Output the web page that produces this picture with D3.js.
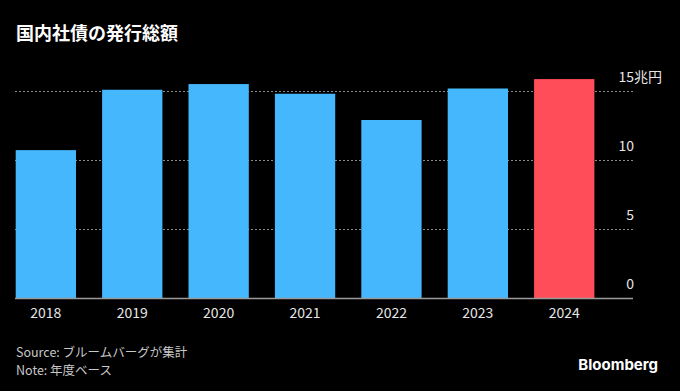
<!DOCTYPE html>
<html><head><meta charset="utf-8">
<script src="https://cdn.jsdelivr.net/npm/d3@7"></script>
<style>
html,body{margin:0;padding:0;background:#000;}
svg{display:block;font-family:"Noto Sans CJK JP","Noto Sans",sans-serif;}
</style></head>
<body><svg id="c" width="680" height="391"></svg>
<script>
const years = ["2018","2019","2020","2021","2022","2023","2024"];
const values = [10.7, 15.07, 15.48, 14.78, 12.88, 15.16, 15.84];
const highlight = ["2024"];
const yTicks = [0, 5, 10, 15];
const yTickLabels = ["0", "5", "10", "15"];
const title = "国内社債の発行総額";
const notes = ["Source: ブルームバーグが集計", "Note: 年度ベース"];

const svg = d3.select("#c");
svg.append("rect").attr("width",680).attr("height",391).attr("fill","#000");

const x = d3.scaleBand().domain(years).range([15.7, 594.4]).paddingInner(0.302).paddingOuter(0);
const y = d3.scaleLinear().domain([0, 15]).range([298, 90.7]);

// gridlines
svg.append("g").selectAll("line").data(yTicks.filter(d=>d>0)).join("line")
  .attr("x1",15).attr("x2",633)
  .attr("y1",d=>Math.round(y(d))+0.5).attr("y2",d=>Math.round(y(d))+0.5)
  .attr("stroke","#8a8a8a").attr("stroke-width",1).attr("stroke-dasharray","2,2");

// bars
svg.append("g").selectAll("rect").data(years).join("rect")
  .attr("x",d=>x(d)).attr("width",x.bandwidth())
  .attr("y",(d,i)=>y(values[i])).attr("height",(d,i)=>y(0)-y(values[i]))
  .attr("fill",d=>highlight.includes(d)?"#ff4d5a":"#45b7fc");

// baseline
svg.append("line").attr("x1",15).attr("x2",633).attr("y1",y(0)+0.5).attr("y2",y(0)+0.5)
  .attr("stroke","#9a9a9a").attr("stroke-width",1.5);

// y labels (right side)
const yl = svg.append("g").attr("fill","#e6e6e6").attr("font-size",14);
yTicks.forEach((t,i)=>{
  yl.append("text").attr("x",634).attr("y",y(t)-9).attr("text-anchor","end").text(yTickLabels[i]);
  if (t===15){
    yl.append("text").attr("x",634).attr("y",y(t)-9).attr("text-anchor","start").text("兆円");
  }
});

// x labels
svg.append("g").selectAll("text").data(years).join("text")
  .attr("x",d=>x(d)+x.bandwidth()/2).attr("y",318)
  .attr("text-anchor","middle").attr("fill","#e6e6e6").attr("font-size",14)
  .text(d=>d);

// title
svg.append("text").attr("x",16).attr("y",40).attr("fill","#fff")
  .attr("font-size",18).attr("font-weight","bold").text(title);

// notes
svg.append("g").selectAll("text").data(notes).join("text")
  .attr("x",16).attr("y",(d,i)=>357+i*17.5).attr("fill","#c8c8c8").attr("font-size",12.5)
  .text(d=>d);

// logo
svg.append("text").attr("x",658).attr("y",370).attr("text-anchor","end")
  .attr("fill","#fff").attr("font-size",15).attr("font-weight","bold")
  .attr("font-family","Inter, 'Noto Sans', sans-serif").text("Bloomberg");
</script></body></html>
